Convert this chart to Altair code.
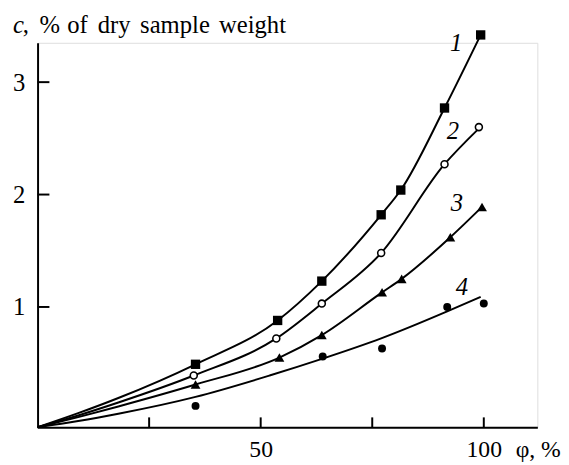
import altair as alt
import pandas as pd

# measured points (phi, %; c, % of dry sample weight)
phi1 = [35.4, 53.8, 63.7, 77.0, 81.4, 91.2, 99.3]
c1 = [0.49, 0.88, 1.23, 1.82, 2.04, 2.77, 3.42]
phi2 = [35.0, 53.5, 63.7, 77.0, 91.2, 98.9]
c2 = [0.39, 0.72, 1.03, 1.48, 2.27, 2.60]
phi3 = [35.4, 54.2, 63.7, 77.2, 81.6, 92.5, 99.6]
c3 = [0.31, 0.55, 0.75, 1.13, 1.25, 1.62, 1.89]
phi4 = [35.4, 63.9, 77.2, 91.8, 100.0]
c4 = [0.12, 0.56, 0.63, 1.00, 1.03]

# fitted curves
curve1_phi = [0, 9.1, 18.1, 35.4, 53.8, 63.7, 77.0, 81.4, 91.2, 99.3]
curve1_c = [-0.07, 0.055, 0.19, 0.49, 0.88, 1.23, 1.82, 2.04, 2.77, 3.42]
curve2_phi = [0, 9.1, 18.1, 35.0, 53.5, 63.7, 77.0, 91.2, 98.7]
curve2_c = [-0.07, 0.035, 0.15, 0.39, 0.72, 1.03, 1.48, 2.27, 2.58]
curve3_phi = [0, 9.1, 18.1, 35.4, 54.2, 63.7, 77.2, 81.6, 92.5, 99.6]
curve3_c = [-0.07, 0.02, 0.115, 0.31, 0.55, 0.75, 1.13, 1.25, 1.62, 1.89]
curve4_phi = [0, 9.1, 18.1, 35.4, 52.0, 63.9, 77.0, 91.8, 99.3]
curve4_c = [-0.07, -0.015, 0.05, 0.20, 0.39, 0.54, 0.72, 0.96, 1.09]

curve_labels = ["1", "2", "3", "4"]
label_phi = [93.8, 93.1, 94.0, 95.1]
label_c = [3.35, 2.56, 1.92, 1.18]

x_ticks = [25, 50, 75, 100]
x_labels = [50, 100]
y_ticks = [1, 2, 3]

FONT = "Liberation Serif"
xs = alt.Scale(domain=[0, 112], nice=False, zero=False)
ys = alt.Scale(domain=[-0.07, 3.35], nice=False, zero=False)


def curve(px, cy):
    df = pd.DataFrame({"phi": px, "c": cy, "order": list(range(len(px)))})
    return alt.Chart(df).mark_line(color="black", strokeWidth=2, interpolate="monotone", clip=False).encode(
        x=alt.X("phi:Q", scale=xs, axis=alt.Axis(values=x_labels, title=None, grid=False, ticks=False,
                                                   labelFont=FONT, labelFontSize=24, labelColor="black",
                                                   labelPadding=11, domainColor="black", domainWidth=2,
                                                   labelFlush=False, format="d")),
        y=alt.Y("c:Q", scale=ys, axis=alt.Axis(values=y_ticks, title=None, grid=False, ticks=False,
                                                 labelFont=FONT, labelFontSize=25, labelColor="black",
                                                 labelPadding=13, domainColor="black", domainWidth=2,
                                                 labelFlush=False, format="d")),
        order="order:O",
    )


def pts(px, cy):
    return pd.DataFrame({"phi": px, "c": cy})


def word(t, x, italic=False):
    return alt.Chart(pd.DataFrame({"t": [t]})).mark_text(
        font=FONT, fontSize=25, fontStyle="italic" if italic else "normal", color="black",
        align="left", baseline="alphabetic"
    ).encode(x=alt.value(x), y=alt.value(-10), text="t:N")


enc = dict(x=alt.X("phi:Q", scale=xs), y=alt.Y("c:Q", scale=ys))

layers = [
    curve(curve1_phi, curve1_c),
    curve(curve2_phi, curve2_c),
    curve(curve3_phi, curve3_c),
    curve(curve4_phi, curve4_c),
    alt.Chart(pts(phi1, c1)).mark_point(shape="square", filled=True, color="black", size=90, opacity=1).encode(**enc),
    alt.Chart(pts(phi2, c2)).mark_point(shape="circle", filled=True, fill="white", stroke="black",
                                        strokeWidth=1.6, size=50, opacity=1).encode(**enc),
    alt.Chart(pts(phi3, c3)).mark_point(shape="triangle-up", filled=True, color="black", size=100, opacity=1).encode(**enc),
    alt.Chart(pts(phi4, c4)).mark_circle(color="black", size=65, opacity=1).encode(**enc),
    alt.Chart(pd.DataFrame({"t": curve_labels, "phi": label_phi, "c": label_c})).mark_text(
        font=FONT, fontSize=25, fontStyle="italic", color="black", align="center", baseline="middle"
    ).encode(x=alt.X("phi:Q", scale=xs), y=alt.Y("c:Q", scale=ys), text="t:N"),
    alt.Chart(pd.DataFrame({"phi": x_ticks})).mark_rule(color="black", strokeWidth=2).encode(
        x=alt.X("phi:Q", scale=xs), y=alt.value(390), y2=alt.value(380)),
    alt.Chart(pd.DataFrame({"c": y_ticks})).mark_rule(color="black", strokeWidth=2).encode(
        y=alt.Y("c:Q", scale=ys), x=alt.value(0), x2=alt.value(12)),
    alt.Chart(pd.DataFrame({"t": ["φ, %"]})).mark_text(
        font=FONT, fontSize=24, color="black", align="left", baseline="alphabetic"
    ).encode(x=alt.value(485), y=alt.value(420), text="t:N"),
    word("c", -25, italic=True),
    word(",", -15),
    word("%", 2),
    word("of", 30),
    word("dry", 61),
    word("sample", 104),
    word("weight", 184),
]

chart = alt.layer(*layers).properties(
    width=507, height=390,
    autosize=alt.AutoSizeParams(type="none"),
    padding={"left": 30, "top": 32, "right": 24, "bottom": 35},
).configure_view(stroke=None).configure(background="white")

chart.save("out.html", embed_options={"renderer": "svg", "actions": False})
